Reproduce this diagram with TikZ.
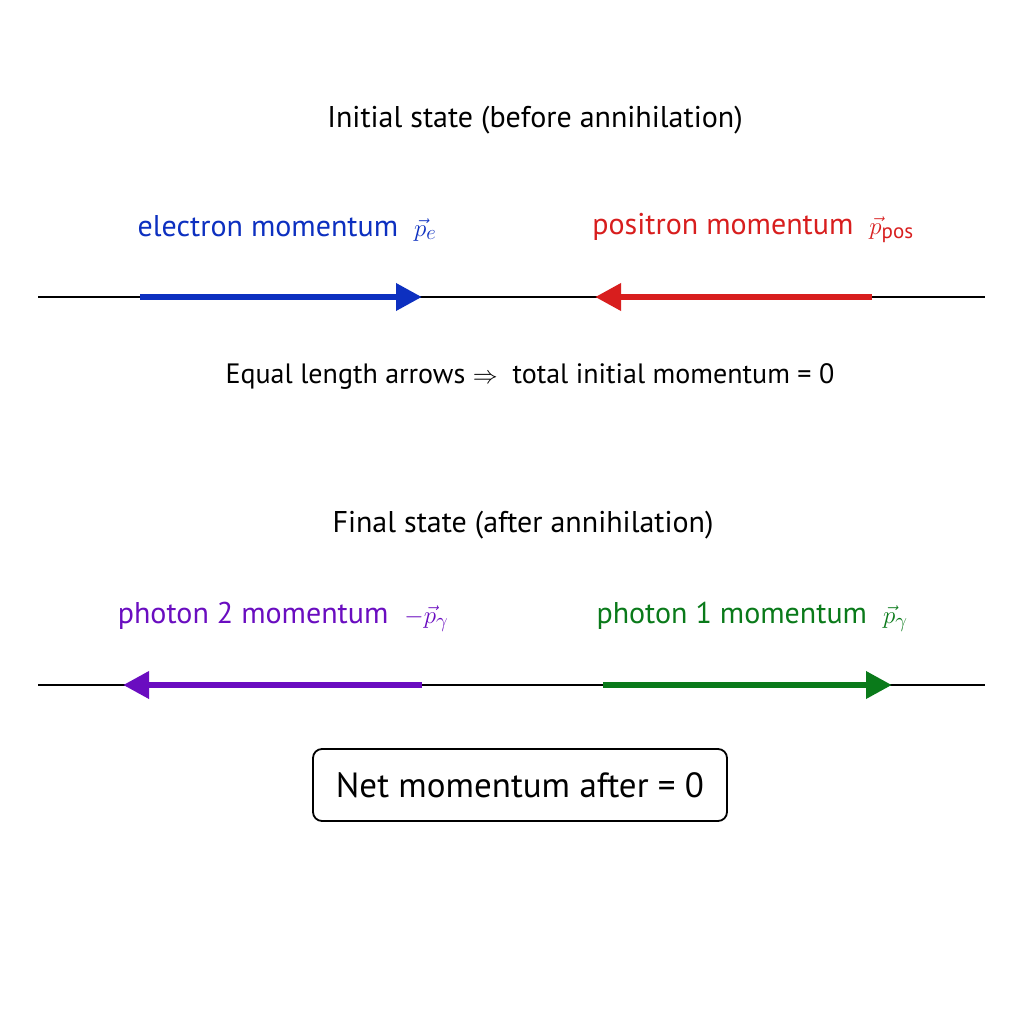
\documentclass[tikz,border=0pt]{standalone}
\usepackage{fontspec}
\setmainfont{PT Sans}
\usetikzlibrary{arrows.meta}
\definecolor{eblue}{HTML}{0D30C0}
\definecolor{pred}{HTML}{D81E1E}
\definecolor{ppur}{HTML}{6A0DC0}
\definecolor{pgreen}{HTML}{0A7A1A}
\begin{document}
\begin{tikzpicture}[x=1pt,y=-1pt,
  txt/.style={font=\fontsize{30}{34}\selectfont, inner sep=0pt},
  axis/.style={line width=2pt, black},
  mom/.style={line width=6.5pt, -{Triangle[length=26pt,width=26pt]}}]
\useasboundingbox (0,0) rectangle (1024,1024);
\fill[white] (0,0) rectangle (1024,1024);
\node[txt] (t1) at (535,120) {Initial state (before annihilation)};
\node[txt, text=eblue] (le) at (287,228) {electron momentum \ $\vec p_e$};
\node[txt, text=pred] (lp) at (753,228) {positron momentum \ $\vec p_{\mathrm{pos}}$};
\coordinate (a1) at (38,297); \coordinate (a2) at (985,297);
\draw[axis] (a1) -- (a2);
\coordinate (e1) at (140,297); \coordinate (e2) at (422,297);
\draw[mom, eblue] (e1) -- (e2);
\coordinate (p1) at (872,297); \coordinate (p2) at (595,297);
\draw[mom, pred] (p1) -- (p2);
\node[txt, font=\fontsize{28}{32}\selectfont] (eq) at (530,376) {Equal length arrows $\Rightarrow$ \ total initial momentum = 0};
\node[txt] (t2) at (523,525) {Final state (after annihilation)};
\node[txt, text=ppur] (l2) at (283,617) {photon 2 momentum \ $-\vec p_\gamma$};
\node[txt, text=pgreen] (l1) at (752,617) {photon 1 momentum \ $\vec p_\gamma$};
\coordinate (b1) at (38,685); \coordinate (b2) at (985,685);
\draw[axis] (b1) -- (b2);
\coordinate (g1) at (422,685); \coordinate (g2) at (123,685);
\draw[mom, ppur] (g1) -- (g2);
\coordinate (h1) at (603,685); \coordinate (h2) at (892,685);
\draw[mom, pgreen] (h1) -- (h2);
\node[draw, line width=1.8pt, rounded corners=9pt, minimum width=414pt, minimum height=72pt,
  font=\fontsize{35}{40}\selectfont] (net) at (520,785) {Net momentum after = 0};
\end{tikzpicture}
\end{document}
